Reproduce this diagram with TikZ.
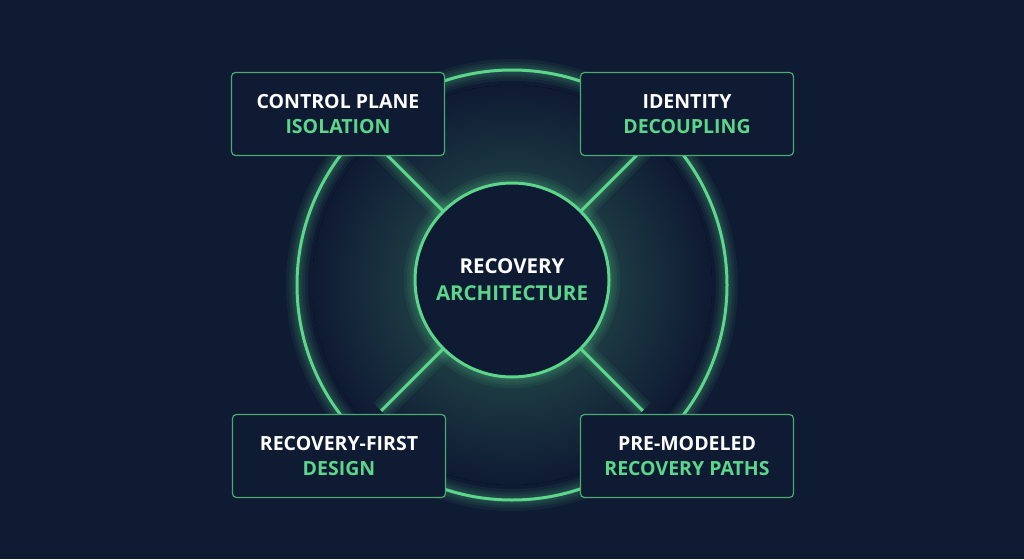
\documentclass[tikz,border=0pt]{standalone}
\usepackage{fontspec}
\setmainfont{Open Sans}
\usetikzlibrary{calc}
\begin{document}
\begin{tikzpicture}[x=1pt,y=-1pt,
  glow/.style={draw=gr, line width=#1, opacity=0.07},
  ln/.style={draw=gr, line width=3},
  box/.style={draw=gr!80!black, line width=1.2, fill=bg, rounded corners=4, minimum width=213, minimum height=83, align=center, font=\fontsize{19.5}{25}\selectfont\bfseries},
  ]
\definecolor{bg}{HTML}{0F1A33}
\definecolor{gr}{HTML}{5CD68A}
\fill[bg] (0,0) rectangle (1024,559);
\useasboundingbox (0,0) rectangle (1024,559);
\coordinate (c) at (512,280);
\coordinate (o) at (512,285);
\fill[inner color=gr!35!bg, outer color=bg] (o) circle (200);
\foreach \w in {22,16,11,7} {
  \draw[glow=\w] (o) circle (215);
  \draw[glow=\w] (c) circle (97);
  \foreach \a in {45,135,225,315} \draw[glow=\w] ($(c)+(\a:97)$) -- ($(c)+(\a:185)$);
}
\draw[ln] (o) circle (215);
\foreach \a in {45,135,225,315} \draw[ln] (c) ++(\a:97) -- ++(\a:88);
\node[circle, minimum size=194, draw=gr, line width=3, fill=bg] (core) at (c) {};
\node[align=center, font=\fontsize{20.5}{27}\selectfont\bfseries] (t) at (c) {\textcolor{white}{RECOVERY}\\\textcolor{gr}{ARCHITECTURE}};
\node[box] (tl) at (338,114) {\textcolor{white}{CONTROL PLANE}\\\textcolor{gr}{ISOLATION}};
\node[box] (tr) at (687,114) {\textcolor{white}{IDENTITY}\\\textcolor{gr}{DECOUPLING}};
\node[box] (bl) at (339,456) {\textcolor{white}{RECOVERY-FIRST}\\\textcolor{gr}{DESIGN}};
\node[box] (br) at (687,456) {\textcolor{white}{PRE-MODELED}\\\textcolor{gr}{RECOVERY PATHS}};
\end{tikzpicture}
\end{document}
